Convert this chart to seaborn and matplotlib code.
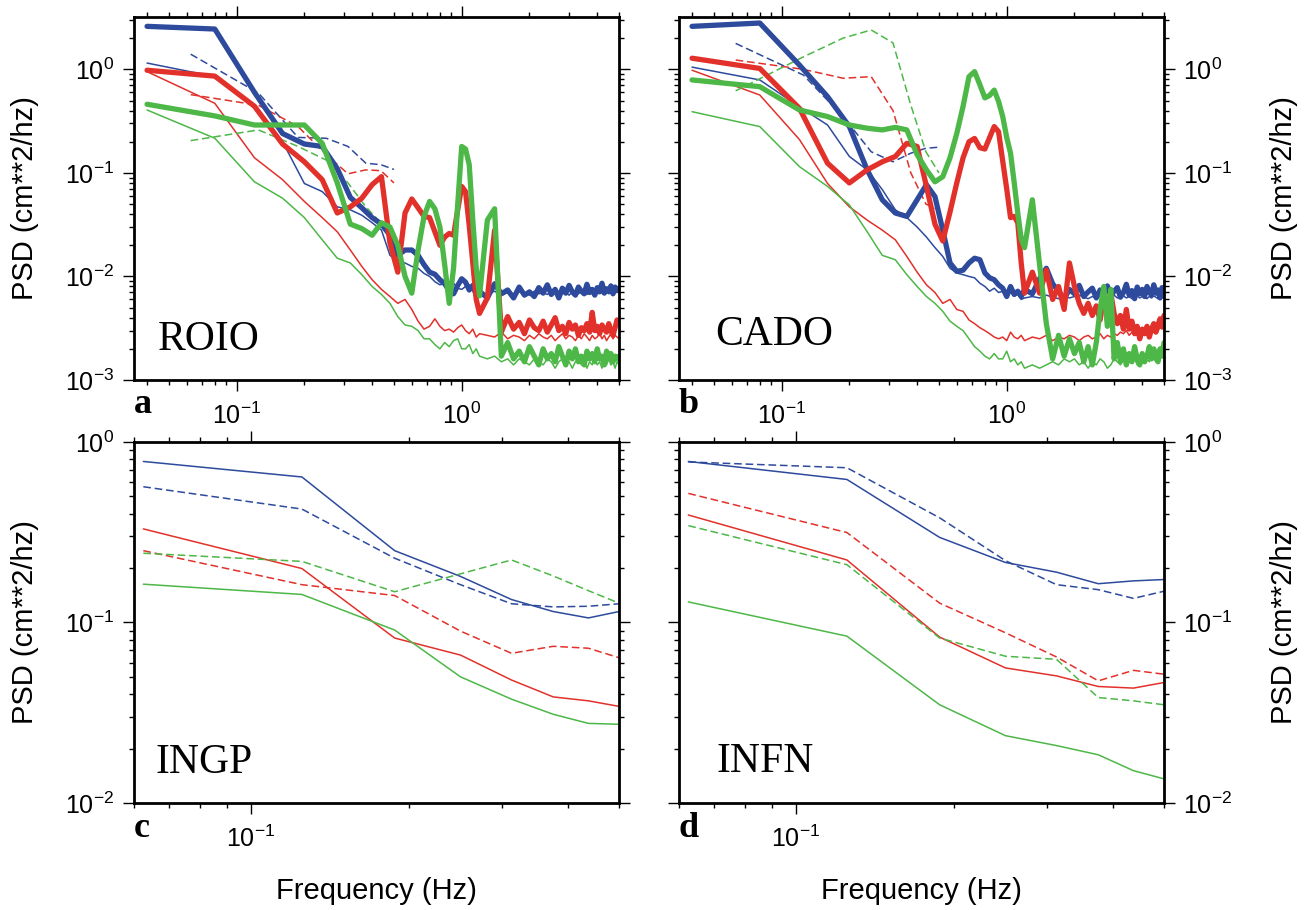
import numpy as np
import seaborn as sns
import matplotlib.pyplot as plt
from matplotlib.ticker import LogLocator, NullFormatter

sns.set_style('ticks')
plt.rcParams['font.family'] = ['Liberation Sans', 'DejaVu Sans']
plt.rcParams['mathtext.fontset'] = 'custom'
plt.rcParams['mathtext.rm'] = 'Liberation Sans'
plt.rcParams['mathtext.it'] = 'Liberation Sans:italic'
plt.rcParams['mathtext.bf'] = 'Liberation Sans:bold'
for key in ('text.color', 'axes.labelcolor', 'xtick.color', 'ytick.color'):
    plt.rcParams[key] = 'black'

BLUE = '#2d4a9c'
RED = '#e2312b'
GREEN = '#4db748'

# frequency grids (Hz)
FREQ_LOW = [0.04, 0.08, 0.12, 0.16, 0.20, 0.24, 0.28, 0.32, 0.36, 0.40,
            0.44, 0.48, 0.52, 0.56, 0.60, 0.64, 0.68, 0.72, 0.76, 0.80,
            0.84, 0.88, 0.92, 0.96, 1.00, 1.04, 1.08, 1.12, 1.16, 1.20]
FREQ_HIGH = [1.3, 1.4, 1.5, 1.6, 1.7, 1.8, 1.9, 2.0, 2.1, 2.2,
             2.3, 2.4, 2.5, 2.6, 2.7, 2.8, 2.9, 3.0, 3.1, 3.2,
             3.3, 3.4, 3.5, 3.6, 3.7, 3.8, 3.9, 4.0, 4.1, 4.2,
             4.3, 4.4, 4.5, 4.6, 4.7, 4.8, 4.9, 5.0]
FREQ_TOP = FREQ_LOW + FREQ_HIGH
FREQ_BOT = [0.0625, 0.125, 0.1875, 0.25, 0.3125, 0.375, 0.4375, 0.5]

# ---- ROIO (a)
ROIO_BLUE_THICK = [2.6, 2.45, 0.6, 0.24, 0.19, 0.18, 0.11, 0.058, 0.046, 0.037,
                   0.032, 0.025, 0.016, 0.018, 0.018, 0.016, 0.013, 0.011, 0.0105, 0.0093,
                   0.0085, 0.0073, 0.0068, 0.0082, 0.0095, 0.0088, 0.0074, 0.0082, 0.0066, 0.0072,
                   0.0062, 0.0085, 0.0068, 0.0074, 0.0062, 0.0079, 0.0066, 0.0071, 0.0064, 0.0078,
                   0.0069, 0.0083, 0.0067, 0.0075, 0.0062, 0.0077, 0.0069, 0.0082, 0.0071, 0.0066,
                   0.0079, 0.0072, 0.0068, 0.0084, 0.0070, 0.0075, 0.0066, 0.0078, 0.0071, 0.0086,
                   0.0069, 0.0076, 0.0072, 0.0081, 0.0068, 0.0079, 0.0073, 0.0077]
ROIO_BLUE_THIN = [1.15, 0.85, 0.45, 0.2, 0.079, 0.066, 0.047, 0.044, 0.039, 0.033,
                  0.028, 0.016, 0.014, 0.0135, 0.0125, 0.012, 0.0107, 0.010, 0.0089, 0.0083,
                  0.0086, 0.008, 0.0086, 0.0077, 0.0075, 0.008, 0.0083, 0.0075, 0.007, 0.0065,
                  0.0068, 0.0072, 0.0066, 0.0070, 0.0067, 0.0071, 0.0069, 0.0066, 0.0072, 0.0068,
                  0.0070, 0.0067, 0.0071, 0.0069, 0.0072, 0.0068, 0.0070, 0.0066, 0.0071, 0.0069,
                  0.0068, 0.0072, 0.0070, 0.0067, 0.0071, 0.0069, 0.0073, 0.0068, 0.0070, 0.0072,
                  0.0069, 0.0071, 0.0068, 0.0070, 0.0072, 0.0069, 0.0071, 0.0070]
ROIO_RED_THICK = [0.98, 0.86, 0.44, 0.19, 0.128, 0.086, 0.041, 0.047, 0.057, 0.077,
                  0.092, 0.021, 0.011, 0.041, 0.056, 0.046, 0.038, 0.037, 0.027, 0.020,
                  0.024, 0.026, 0.025, 0.044, 0.074, 0.066, 0.031, 0.0135, 0.006, 0.0044,
                  0.0062, 0.028, 0.0029, 0.0041, 0.0031, 0.0036, 0.0028, 0.0038, 0.0032, 0.0030,
                  0.0037, 0.0029, 0.0034, 0.0040, 0.0030, 0.0033, 0.0028, 0.0036, 0.0031, 0.0034,
                  0.0027, 0.0032, 0.0030, 0.0035, 0.0029, 0.0045, 0.0030, 0.0033, 0.0028, 0.0034,
                  0.0031, 0.0029, 0.0035, 0.0030, 0.0027, 0.0032, 0.0038, 0.0036]
ROIO_RED_THIN = [0.95, 0.47, 0.14, 0.086, 0.053, 0.037, 0.027, 0.018, 0.0125, 0.0093,
                 0.0075, 0.0064, 0.0055, 0.006, 0.0048, 0.0037, 0.0031, 0.0033, 0.0039, 0.0033,
                 0.0030, 0.0031, 0.0029, 0.0032, 0.0034, 0.0030, 0.0028, 0.0031, 0.0026, 0.0028,
                 0.0027, 0.0026, 0.0029, 0.0025, 0.0027, 0.0026, 0.0024, 0.0027, 0.0025, 0.0028,
                 0.0026, 0.0025, 0.0027, 0.0024, 0.0026, 0.0028, 0.0025, 0.0027, 0.0026, 0.0024,
                 0.0027, 0.0025, 0.0028, 0.0026, 0.0024, 0.0027, 0.0025, 0.0026, 0.0028, 0.0025,
                 0.0027, 0.0024, 0.0026, 0.0028, 0.0025, 0.0027, 0.0026, 0.0025]
ROIO_GREEN_THICK = [0.46, 0.355, 0.29, 0.29, 0.29, 0.193, 0.08, 0.032, 0.029, 0.025,
                    0.033, 0.030, 0.020, 0.010, 0.0069, 0.018, 0.038, 0.053, 0.045, 0.030,
                    0.013, 0.0055, 0.012, 0.05, 0.18, 0.17, 0.12, 0.035, 0.012, 0.0065,
                    0.035, 0.045, 0.0017, 0.0023, 0.0016, 0.0019, 0.0015, 0.0021, 0.0017, 0.0014,
                    0.0020, 0.0016, 0.0018, 0.0015, 0.0021, 0.0017, 0.0014, 0.0019, 0.0016, 0.0020,
                    0.0015, 0.0017, 0.0014, 0.0019, 0.0016, 0.0018, 0.0015, 0.0020, 0.0016, 0.0017,
                    0.0014, 0.0019, 0.0016, 0.0018, 0.0015, 0.0017, 0.0016, 0.0017]
ROIO_GREEN_THIN = [0.405, 0.216, 0.082, 0.057, 0.037, 0.0226, 0.015, 0.0135, 0.0104, 0.008,
                   0.0067, 0.0055, 0.0041, 0.0034, 0.0033, 0.0030, 0.0025, 0.0025, 0.0022, 0.0020,
                   0.0023, 0.0021, 0.0024, 0.0025, 0.0020, 0.0020, 0.0022, 0.0018, 0.0020, 0.0017,
                   0.0016, 0.0017, 0.0015, 0.0016, 0.0014, 0.0016, 0.0015, 0.0014, 0.0016, 0.0015,
                   0.0014, 0.0016, 0.0015, 0.0013, 0.0015, 0.0016, 0.0014, 0.0015, 0.0013, 0.0015,
                   0.0016, 0.0014, 0.0015, 0.0013, 0.0015, 0.0014, 0.0016, 0.0014, 0.0015, 0.0013,
                   0.0015, 0.0014, 0.0016, 0.0014, 0.0015, 0.0013, 0.0015, 0.0014]
ROIO_BLUE_DASH = [1.4, 0.59, 0.22, 0.216, 0.18, 0.124, 0.12, 0.108]
ROIO_RED_DASH = [0.57, 0.45, 0.28, 0.15, 0.098, 0.107, 0.105, 0.08]
ROIO_GREEN_DASH = [0.205, 0.26, 0.18, 0.133, 0.08, 0.047, 0.033, 0.021]

# ---- CADO (b)
CADO_BLUE_THICK = [2.6, 2.8, 1.1, 0.545, 0.28, 0.107, 0.055, 0.041, 0.038, 0.055,
                   0.077, 0.059, 0.028, 0.0135, 0.0112, 0.0115, 0.0135, 0.015, 0.0145, 0.0108,
                   0.0097, 0.0093, 0.0083, 0.0077, 0.0064, 0.008, 0.0067, 0.0072, 0.0064, 0.0075,
                   0.0068, 0.0095, 0.012, 0.0085, 0.0072, 0.0061, 0.0075, 0.0068, 0.0082, 0.0064,
                   0.0071, 0.0077, 0.0062, 0.0074, 0.0069, 0.0081, 0.0065, 0.0072, 0.0078, 0.0063,
                   0.0070, 0.0084, 0.0066, 0.0073, 0.0061, 0.0079, 0.0068, 0.0075, 0.0064, 0.0080,
                   0.0071, 0.0066, 0.0083, 0.0069, 0.0074, 0.0062, 0.0078, 0.0070]
CADO_BLUE_THIN = [1.05, 0.79, 0.435, 0.29, 0.144, 0.107, 0.069, 0.044, 0.037, 0.030,
                  0.024, 0.019, 0.0156, 0.012, 0.0108, 0.0104, 0.010, 0.0097, 0.0086, 0.008,
                  0.0072, 0.0077, 0.007, 0.0072, 0.0067, 0.007, 0.0065, 0.0067, 0.006, 0.0062,
                  0.0064, 0.0062, 0.0066, 0.0063, 0.0061, 0.0065, 0.0062, 0.0064, 0.0066, 0.0063,
                  0.0061, 0.0064, 0.0062, 0.0065, 0.0063, 0.0061, 0.0064, 0.0066, 0.0062, 0.0063,
                  0.0065, 0.0062, 0.0064, 0.0061, 0.0063, 0.0065, 0.0062, 0.0064, 0.0063, 0.0061,
                  0.0064, 0.0062, 0.0065, 0.0063, 0.0061, 0.0064, 0.0062, 0.0063]
CADO_RED_THICK = [1.28, 1.02, 0.42, 0.124, 0.08, 0.107, 0.128, 0.144, 0.193, 0.18,
                  0.074, 0.032, 0.022, 0.042, 0.08, 0.14, 0.2, 0.215, 0.175, 0.17,
                  0.22, 0.28, 0.25, 0.13, 0.07, 0.037, 0.038, 0.033, 0.0135, 0.0069,
                  0.011, 0.0069, 0.0115, 0.006, 0.008, 0.0048, 0.0135, 0.008, 0.0055, 0.0044,
                  0.0055, 0.0042, 0.0052, 0.0038, 0.0064, 0.0048, 0.0069, 0.0044, 0.0035, 0.0042,
                  0.0031, 0.0048, 0.0031, 0.0037, 0.0028, 0.0033, 0.0025, 0.0031, 0.0028, 0.0033,
                  0.0026, 0.0031, 0.0035, 0.0029, 0.0034, 0.0039, 0.0033, 0.0042]
CADO_RED_THIN = [0.98, 0.565, 0.21, 0.079, 0.047, 0.035, 0.028, 0.0226, 0.0156, 0.011,
                 0.0083, 0.007, 0.0055, 0.006, 0.0048, 0.0046, 0.0038, 0.0035, 0.0032, 0.003,
                 0.0028, 0.0026, 0.0025, 0.0026, 0.0024, 0.0029, 0.0026, 0.0025, 0.0027, 0.0024,
                 0.0026, 0.0025, 0.0027, 0.0024, 0.0026, 0.0025, 0.0027, 0.0026, 0.0024, 0.0026,
                 0.0027, 0.0025, 0.0026, 0.0028, 0.0025, 0.0027, 0.0026, 0.0028, 0.0027, 0.0029,
                 0.0028, 0.0030, 0.0027, 0.0029, 0.0031, 0.0028, 0.0030, 0.0029, 0.0031, 0.0030,
                 0.0032, 0.0029, 0.0031, 0.0033, 0.0030, 0.0032, 0.0031, 0.0033]
CADO_GREEN_THICK = [0.79, 0.68, 0.405, 0.35, 0.29, 0.27, 0.26, 0.275, 0.26, 0.15,
                    0.107, 0.082, 0.092, 0.14, 0.24, 0.44, 0.85, 0.95, 0.71, 0.53,
                    0.56, 0.63, 0.49, 0.35, 0.22, 0.155, 0.08, 0.041, 0.023, 0.019,
                    0.055, 0.013, 0.0035, 0.0016, 0.0027, 0.0017, 0.0025, 0.0018, 0.0023, 0.0015,
                    0.0021, 0.0014, 0.0023, 0.0048, 0.0080, 0.0033, 0.0075, 0.0016, 0.0023, 0.0015,
                    0.0020, 0.0014, 0.0018, 0.0015, 0.0021, 0.0016, 0.0014, 0.0018, 0.0015, 0.0017,
                    0.0021, 0.0016, 0.0020, 0.0017, 0.0015, 0.0020, 0.0017, 0.0023]
CADO_GREEN_THIN = [0.39, 0.28, 0.115, 0.074, 0.049, 0.027, 0.016, 0.0145, 0.0104, 0.008,
                   0.0064, 0.0055, 0.0046, 0.0037, 0.0033, 0.003, 0.0025, 0.0021, 0.0019, 0.0017,
                   0.0016, 0.0018, 0.0016, 0.0016, 0.0019, 0.0015, 0.0016, 0.0014, 0.0015, 0.0013,
                   0.0014, 0.0013, 0.0014, 0.0015, 0.0014, 0.0016, 0.0015, 0.0016, 0.0014, 0.0015,
                   0.0013, 0.0015, 0.0014, 0.0016, 0.0015, 0.0013, 0.0014, 0.0016, 0.0015, 0.0014,
                   0.0016, 0.0015, 0.0017, 0.0015, 0.0016, 0.0014, 0.0016, 0.0015, 0.0017, 0.0016,
                   0.0015, 0.0017, 0.0016, 0.0015, 0.0017, 0.0016, 0.0018, 0.0017]
CADO_BLUE_DASH = [1.78, 0.88, 0.35, 0.16, 0.128, 0.155, 0.173, 0.177]
CADO_RED_DASH = [1.23, 1.0, 0.82, 0.85, 0.40, 0.1, 0.05, 0.044]
CADO_GREEN_DASH = [0.62, 1.32, 2.0, 2.4, 1.8, 0.45, 0.16, 0.1]

# ---- INGP (c)
INGP_BLUE = [0.78, 0.64, 0.25, 0.18, 0.134, 0.115, 0.106, 0.115]
INGP_BLUE_DASH = [0.565, 0.425, 0.227, 0.162, 0.127, 0.122, 0.123, 0.127]
INGP_RED = [0.33, 0.199, 0.082, 0.066, 0.048, 0.0387, 0.0368, 0.0343]
INGP_RED_DASH = [0.25, 0.162, 0.141, 0.0896, 0.0675, 0.0738, 0.072, 0.0638]
INGP_GREEN = [0.163, 0.143, 0.0908, 0.05, 0.0376, 0.031, 0.0276, 0.0273]
INGP_GREEN_DASH = [0.242, 0.218, 0.148, 0.186, 0.222, 0.181, 0.15, 0.128]

# ---- INFN (d)
INFN_BLUE = [0.78, 0.62, 0.296, 0.215, 0.19, 0.164, 0.17, 0.173]
INFN_BLUE_DASH = [0.775, 0.72, 0.38, 0.22, 0.162, 0.152, 0.136, 0.149]
INFN_RED = [0.394, 0.222, 0.083, 0.056, 0.0506, 0.0442, 0.0433, 0.0465]
INFN_RED_DASH = [0.519, 0.315, 0.128, 0.0877, 0.0644, 0.0475, 0.0543, 0.0517]
INFN_GREEN = [0.13, 0.084, 0.035, 0.0236, 0.0208, 0.0185, 0.0151, 0.0136]
INFN_GREEN_DASH = [0.344, 0.209, 0.082, 0.065, 0.0625, 0.0384, 0.0368, 0.035]

STYLES = {'thick': (3.8, '-'), 'thin': (1.1, '-'), 'dash': (1.1, (0, (5, 2.5)))}


def draw(ax, x, y, color, kind):
    lw, ls = STYLES[kind]
    sns.lineplot(x=x, y=y, ax=ax, color=color, linewidth=lw, linestyle=ls,
                 estimator=None, sort=False, legend=False)


def style(ax, xlim, ylim, side):
    ax.set_xscale('log')
    ax.set_yscale('log')
    ax.set_xlim(*xlim)
    ax.set_ylim(*ylim)
    for axis in (ax.xaxis, ax.yaxis):
        axis.set_major_locator(LogLocator(base=10, numticks=12))
        axis.set_minor_locator(LogLocator(base=10, subs=np.arange(2, 10), numticks=40))
        axis.set_minor_formatter(NullFormatter())
    ax.tick_params(which='both', direction='out', top=True, right=True,
                   bottom=True, left=True, width=1.0, color='black')
    ax.tick_params(which='major', length=8)
    ax.tick_params(which='minor', length=3.5)
    ax.tick_params(axis='x', labelsize=18, pad=8, labelbottom=True, labeltop=False)
    ax.tick_params(axis='y', labelsize=18, pad=6,
                   labelleft=(side == 'left'), labelright=(side == 'right'))
    for sp in ax.spines.values():
        sp.set_visible(True)
        sp.set_linewidth(2.0)
        sp.set_color('black')
    ax.set_xlabel('')
    ax.set_ylabel('PSD (cm**2/hz)', fontsize=21)
    if side == 'right':
        ax.yaxis.set_label_position('right')
        ax.yaxis.set_label_coords(1.219, 0.5)
    else:
        ax.yaxis.set_label_coords(-0.196, 0.5)


fig = plt.figure(figsize=(13.06, 9.10), dpi=100)
ax_a = fig.add_axes([0.1026, 0.5824, 0.3714, 0.3989])
ax_b = fig.add_axes([0.5199, 0.5824, 0.3714, 0.3989])
ax_c = fig.add_axes([0.1026, 0.1176, 0.3714, 0.3967])
ax_d = fig.add_axes([0.5199, 0.1176, 0.3714, 0.3967])

top_panels = [
    (ax_a, 'left', 'ROIO', 'a', (0.05, 0.083),
     [ROIO_BLUE_THIN, ROIO_RED_THIN, ROIO_GREEN_THIN],
     [ROIO_BLUE_DASH, ROIO_RED_DASH, ROIO_GREEN_DASH],
     [ROIO_BLUE_THICK, ROIO_RED_THICK, ROIO_GREEN_THICK]),
    (ax_b, 'right', 'CADO', 'b', (0.074, 0.096),
     [CADO_BLUE_THIN, CADO_RED_THIN, CADO_GREEN_THIN],
     [CADO_BLUE_DASH, CADO_RED_DASH, CADO_GREEN_DASH],
     [CADO_BLUE_THICK, CADO_RED_THICK, CADO_GREEN_THICK]),
]
colors = [BLUE, RED, GREEN]

for ax, side, name, letter, pos, thin, dash, thick in top_panels:
    for vals, c in zip(thin, colors):
        draw(ax, FREQ_TOP, vals, c, 'thin')
    for vals, c in zip(dash, colors):
        draw(ax, FREQ_BOT, vals, c, 'dash')
    for vals, c in zip(thick, colors):
        draw(ax, FREQ_TOP, vals, c, 'thick')
    style(ax, (0.035, 5.0), (1e-3, 3.2), side)
    ax.text(pos[0], pos[1], name, transform=ax.transAxes, ha='left', va='baseline',
            fontsize=30, family='Liberation Serif')
    ax.text(0.0, -0.091, letter, transform=ax.transAxes, ha='left', va='baseline',
            fontsize=26, fontweight='bold', family='Liberation Serif')

bottom_panels = [
    (ax_c, 'left', 'INGP', 'c', (0.045, 0.084),
     [INGP_BLUE, INGP_RED, INGP_GREEN], [INGP_BLUE_DASH, INGP_RED_DASH, INGP_GREEN_DASH]),
    (ax_d, 'right', 'INFN', 'd', (0.078, 0.086),
     [INFN_BLUE, INFN_RED, INFN_GREEN], [INFN_BLUE_DASH, INFN_RED_DASH, INFN_GREEN_DASH]),
]

for ax, side, name, letter, pos, solid, dash in bottom_panels:
    for vals, c in zip(solid, colors):
        draw(ax, FREQ_BOT, vals, c, 'thin')
    for vals, c in zip(dash, colors):
        draw(ax, FREQ_BOT, vals, c, 'dash')
    style(ax, (0.06, 0.5), (1e-2, 1.0), side)
    ax.set_xlabel('Frequency (Hz)', fontsize=21)
    ax.xaxis.set_label_coords(0.5, -0.206)
    ax.text(pos[0], pos[1], name, transform=ax.transAxes, ha='left', va='baseline',
            fontsize=30, family='Liberation Serif')
    ax.text(0.0, -0.095, letter, transform=ax.transAxes, ha='left', va='baseline',
            fontsize=26, fontweight='bold', family='Liberation Serif')

fig.savefig('out.png', dpi=100)
